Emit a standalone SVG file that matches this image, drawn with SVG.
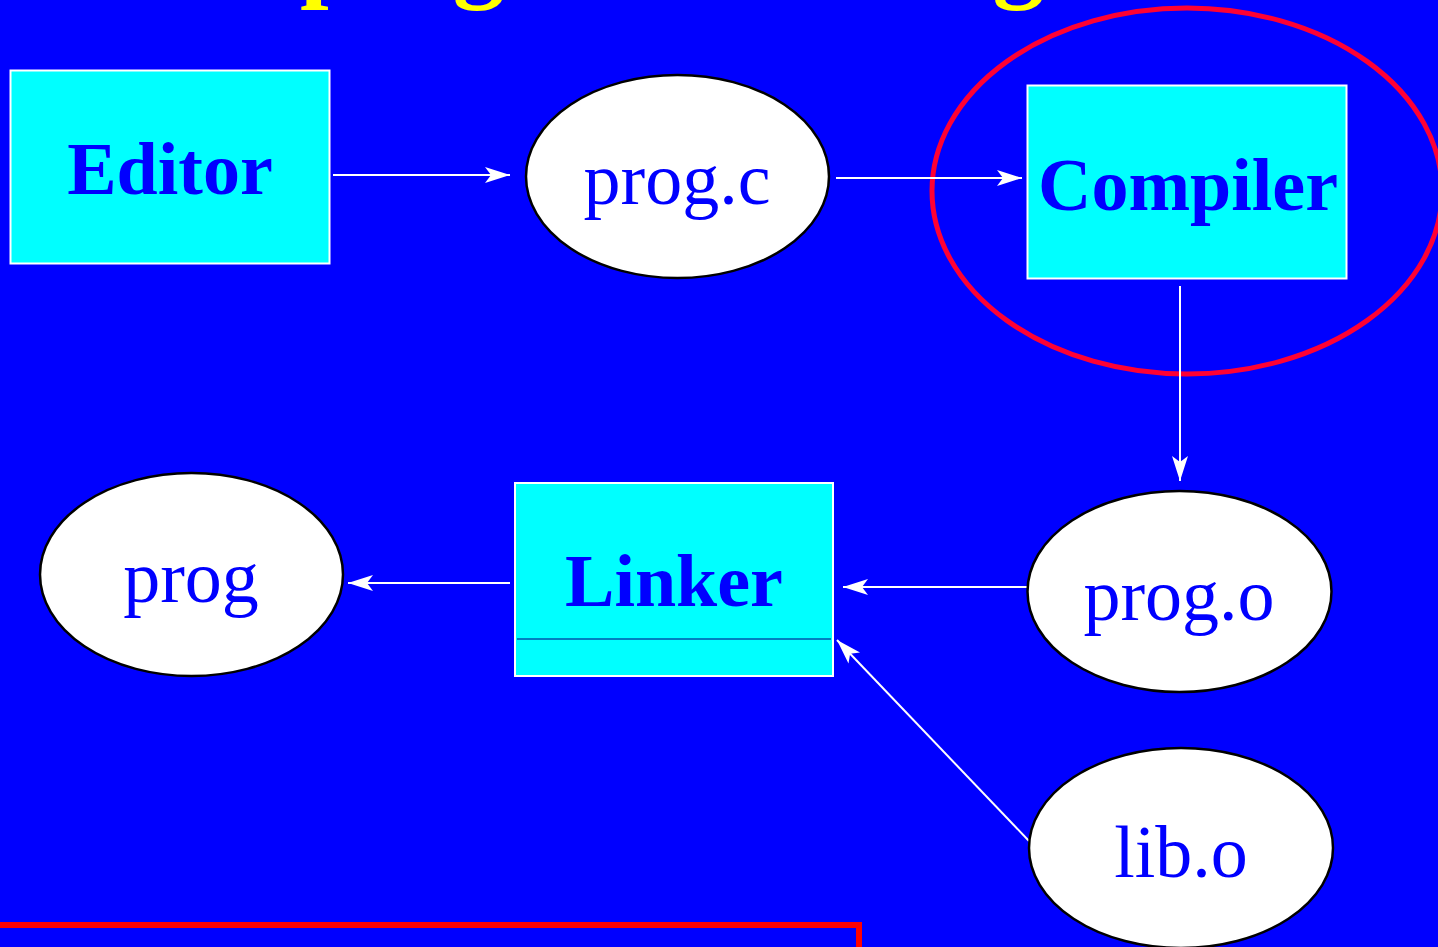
<svg xmlns="http://www.w3.org/2000/svg" width="1438" height="947" viewBox="0 0 1438 947">
  <style>
    .proc { fill: #00ffff; stroke: #ffffff; stroke-width: 2; }
    .file { fill: #ffffff; stroke: #000000; stroke-width: 2.5; }
    .bold { font-family: "Liberation Serif", "Times New Roman", serif; font-weight: bold; font-size: 74px; fill: #0000ff; text-anchor: middle; }
    .reg { font-family: "Liberation Serif", "Times New Roman", serif; font-size: 74px; fill: #0000ff; text-anchor: middle; }
    .title { font-family: "Liberation Serif", "Times New Roman", serif; font-weight: bold; font-size: 103px; fill: #ffff00; }
    .conn { stroke: #ffffff; stroke-width: 2; fill: none; marker-end: url(#arrow); }
  </style>
  <defs>
    <marker id="arrow" markerUnits="userSpaceOnUse" viewBox="-26 -9 27 18" markerWidth="27" markerHeight="18" refX="0" refY="0" orient="auto">
      <path d="M0,0 L-25,-8 L-19,0 L-25,8 Z" fill="#ffffff"/>
    </marker>
  </defs>
  <rect x="0" y="0" width="1438" height="947" fill="#0000ff"/>

  <g id="title">
    <text class="title" x="300" y="-12">program <tspan x="693" letter-spacing="-2.2">building</tspan></text>
  </g>

  <g id="highlight">
    <ellipse cx="1187" cy="191" rx="255" ry="183" fill="none" stroke="#ff0033" stroke-width="5"/>
  </g>

  <g id="connectors">
    <line class="conn" x1="333" y1="175" x2="510" y2="175"/>
    <line class="conn" x1="836" y1="178" x2="1022" y2="178"/>
    <line class="conn" x1="1180" y1="286" x2="1180" y2="481"/>
    <line class="conn" x1="1029" y1="587" x2="843" y2="587"/>
    <line class="conn" x1="1029" y1="841" x2="837" y2="640"/>
    <line class="conn" x1="510" y1="583" x2="348" y2="583"/>
  </g>

  <g id="editor">
    <rect class="proc" x="10.5" y="70.5" width="319" height="193"/>
    <text class="bold" x="170" y="194">Editor</text>
  </g>

  <g id="prog-c">
    <ellipse class="file" cx="677.5" cy="176.5" rx="151.5" ry="101.5"/>
    <text class="reg" x="677" y="204">prog.c</text>
  </g>

  <g id="compiler">
    <rect class="proc" x="1027.5" y="85.5" width="319" height="193"/>
    <text class="bold" x="1188" y="210">Compiler</text>
  </g>

  <g id="prog-o">
    <ellipse class="file" cx="1179.5" cy="591.5" rx="152" ry="100.5"/>
    <text class="reg" x="1179" y="620">prog.o</text>
  </g>

  <g id="linker">
    <rect class="proc" x="515" y="483" width="318" height="193"/>
    <line x1="517" y1="639" x2="831" y2="639" stroke="#000080" stroke-width="1"/>
    <text class="bold" x="674" y="606">Linker</text>
  </g>

  <g id="prog">
    <ellipse class="file" cx="191.5" cy="574.5" rx="151.5" ry="101.5"/>
    <text class="reg" x="191" y="602">prog</text>
  </g>

  <g id="lib-o">
    <ellipse class="file" cx="1181" cy="848" rx="152" ry="100"/>
    <text class="reg" x="1181" y="877">lib.o</text>
  </g>

  <g id="note-box">
    <rect x="-20" y="925" width="879" height="100" fill="none" stroke="#ff0000" stroke-width="6"/>
  </g>
</svg>
